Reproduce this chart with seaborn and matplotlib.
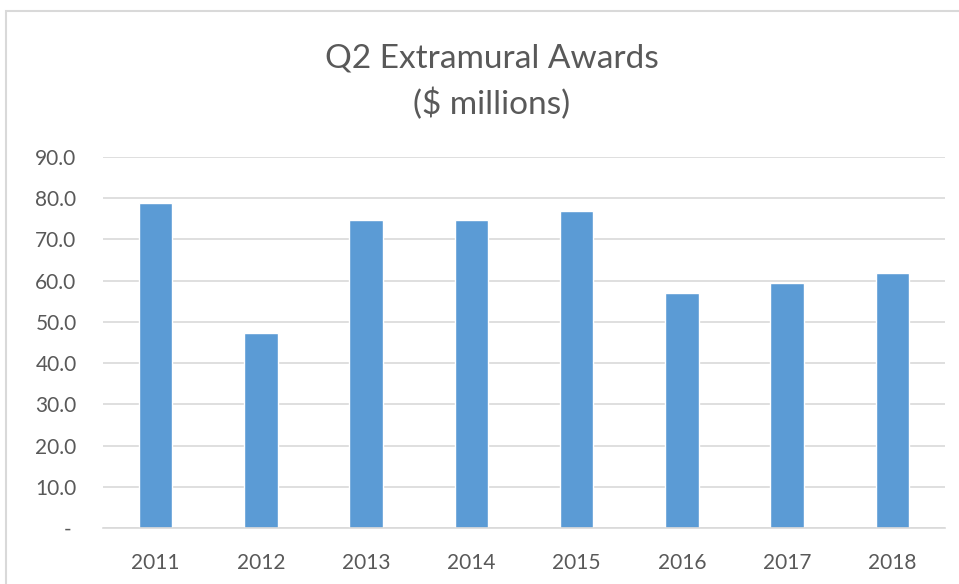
import pandas as pd
import matplotlib.pyplot as plt
import matplotlib.patches as mpatches
import seaborn as sns

# values ($ millions)
years = ['2011', '2012', '2013', '2014', '2015', '2016', '2017', '2018']
awards = [78.9, 47.2, 74.8, 74.8, 77.0, 56.9, 59.4, 61.9]
y_ticks = [0, 10, 20, 30, 40, 50, 60, 70, 80, 90]

df = pd.DataFrame({'year': years, 'awards': awards})

sns.set_style('white')
plt.rcParams['font.family'] = ['Lato', 'DejaVu Sans']

text_col = '#595959'
grid_col = '#d9d9d9'

fig = plt.figure(figsize=(9.59, 5.84), dpi=100)
ax = fig.add_axes([103 / 959, 1 - 528 / 584, 842 / 959, 371 / 584])

sns.barplot(data=df, x='year', y='awards', color='#5b9bd5', width=0.32,
            saturation=1, ax=ax)

ax.set_ylim(0, 90)
ax.set_yticks(y_ticks)
ax.set_yticklabels(['- ' if v == 0 else f'{v:.1f}' for v in y_ticks])
ax.set_xlabel('')
ax.set_ylabel('')
ax.tick_params(axis='both', length=0, labelsize=15, colors=text_col)
ax.tick_params(axis='y', pad=19)
ax.tick_params(axis='x', pad=18)
ax.yaxis.grid(True, color=grid_col, linewidth=1.2)
ax.set_axisbelow(True)
for side in ['top', 'right', 'left']:
    ax.spines[side].set_visible(False)
ax.spines['bottom'].set_color(grid_col)
ax.spines['bottom'].set_linewidth(1.2)

# chart area border (cut off on the right and bottom in the screenshot)
fig.patches.append(mpatches.Rectangle((6 / 959, -0.1), 1.2, 1.1 - 11 / 584,
                                      transform=fig.transFigure, fill=False,
                                      edgecolor='#d9d9d9', linewidth=1.5))

fig.text(492 / 959, 1 - 68 / 584, 'Q2 Extramural Awards', ha='center',
         va='baseline', fontsize=24, color=text_col)
fig.text(492 / 959, 1 - 114 / 584, '($ millions)', ha='center',
         va='baseline', fontsize=24, color=text_col)

fig.savefig('out.png', dpi=100)
